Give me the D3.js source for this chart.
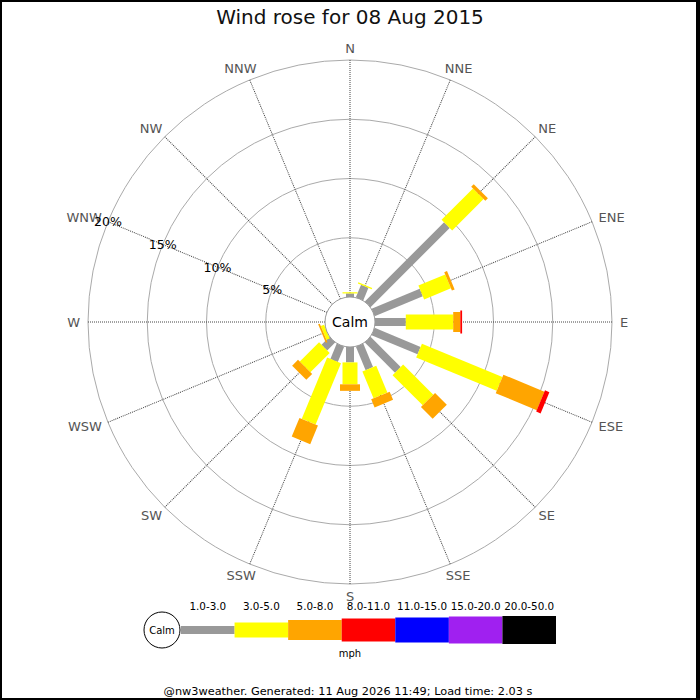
<!DOCTYPE html>
<html>
<head>
<meta charset="utf-8">
<script src="https://cdn.jsdelivr.net/npm/d3@7"></script>
<style>
  body { margin: 0; background: #fff; }
  svg text { font-family: "DejaVu Sans", sans-serif; }
</style>
</head>
<body>
<div id="chart"></div>
<script>
// compass directions, clockwise from N
const directions = ["N", "NNE", "NE", "ENE", "E", "ESE", "SE", "SSE", "S", "SSW", "SW", "WSW", "W", "WNW", "NW", "NNW"];
// speed bands (mph) and their colours
const speedBands = ["1.0-3.0", "3.0-5.0", "5.0-8.0", "8.0-11.0", "11.0-15.0", "15.0-20.0", "20.0-50.0"];
const bandColors = ["#999999", "#ffff00", "#ffa500", "#ff0000", "#0000ff", "#a020f0", "#000000"];
// % of time per direction, one list per speed band
const band1to3   = [0.3, 1.15, 9.45, 4.4, 2.6, 4.2, 3.6, 2.15, 1.3, 1.4, 0.95, 0, 0, 0, 0, 0];
const band3to5   = [0.1, 0.1, 3.75, 2.45, 4.0, 7.35, 3.6, 2.45, 1.85, 5.6, 2.3, 0.3, 0, 0, 0, 0];
const band5to8   = [0, 0, 0.3, 0.25, 0.6, 3.75, 1.4, 0.75, 0.55, 1.7, 0.7, 0.15, 0, 0, 0, 0];
const band8to11  = [0, 0, 0, 0, 0.15, 0.4, 0, 0, 0, 0, 0, 0, 0, 0, 0, 0];
const band11to15 = [0, 0, 0, 0, 0, 0, 0, 0, 0, 0, 0, 0, 0, 0, 0, 0];
const band15to20 = [0, 0, 0, 0, 0, 0, 0, 0, 0, 0, 0, 0, 0, 0, 0, 0];
const band20to50 = [0, 0, 0, 0, 0, 0, 0, 0, 0, 0, 0, 0, 0, 0, 0, 0];
// radial ticks
const pctTicks = [5, 10, 15, 20];

const bandValues = [band1to3, band3to5, band5to8, band8to11, band11to15, band15to20, band20to50];
const legWidths = [8, 15, 20, 23, 25, 27, 28]; // leg thickness per band

const W = 700, H = 700;
const cx = 350, cy = 322;

const svg = d3.select("#chart").append("svg")
    .attr("width", W)
    .attr("height", H);

// frame
svg.append("rect").attr("width", W).attr("height", H).attr("fill", "#000");
svg.append("rect").attr("x", 2).attr("y", 2).attr("width", W - 6).attr("height", H - 4).attr("fill", "#fff");

// title
svg.append("text")
    .attr("x", W / 2)
    .attr("y", 24)
    .attr("text-anchor", "middle")
    .attr("font-size", "20px")
    .attr("fill", "#111")
    .text("Wind rose for 08 Aug 2015");

// scales
const rScale = d3.scaleLinear().domain([0, 20]).range([25, 262]);
const aScale = d3.scaleLinear().domain([0, directions.length]).range([0, 360]);

const rose = svg.append("g").attr("transform", `translate(${cx},${cy})`);

// rings
rose.selectAll("circle.ring")
    .data(pctTicks)
    .enter()
    .append("circle")
    .attr("class", "ring")
    .attr("r", d => rScale(d))
    .attr("fill", "none")
    .attr("stroke", "#aaa")
    .attr("stroke-width", 1);

// spokes (dotted)
rose.selectAll("line.spoke")
    .data(directions)
    .enter()
    .append("line")
    .attr("class", "spoke")
    .attr("transform", (d, i) => `rotate(${aScale(i)})`)
    .attr("x1", 0).attr("x2", 0)
    .attr("y1", -rScale(0))
    .attr("y2", -rScale(20))
    .attr("stroke", "#444")
    .attr("stroke-width", 1)
    .attr("stroke-dasharray", "1,1");

// stacked legs
const rows = directions.map((d, i) => {
    const row = { dir: d, idx: i };
    speedBands.forEach((b, j) => row[b] = bandValues[j][i]);
    return row;
});
const stacked = d3.stack().keys(speedBands)(rows);

stacked.forEach((layer, j) => {
    rose.append("g")
        .selectAll("rect")
        .data(layer.filter(d => d[1] - d[0] > 0))
        .enter()
        .append("rect")
        .attr("transform", d => `rotate(${aScale(d.data.idx)})`)
        .attr("x", -legWidths[j] / 2)
        .attr("width", legWidths[j])
        .attr("y", d => -rScale(d[1]))
        .attr("height", d => rScale(d[1]) - rScale(d[0]))
        .attr("fill", bandColors[j]);
});

// calm circle
rose.append("circle")
    .attr("r", rScale(0))
    .attr("fill", "#fff")
    .attr("stroke", "#999")
    .attr("stroke-width", 1);
rose.append("text")
    .attr("text-anchor", "middle")
    .attr("dy", "0.35em")
    .attr("font-size", "14px")
    .attr("fill", "#000")
    .text("Calm");

// direction labels: just outside the outer ring, pushed outward by half their box
directions.forEach((d, i) => {
    const a = aScale(i) * Math.PI / 180;
    const rr = rScale(20) + 8;
    const t = rose.append("text")
        .attr("text-anchor", "middle")
        .attr("dy", "0.35em")
        .attr("font-size", "13px")
        .attr("fill", "#555")
        .text(d);
    const w = t.node().getComputedTextLength();
    t.attr("x", rr * Math.sin(a) + Math.sin(a) * w / 2)
     .attr("y", -rr * Math.cos(a) - Math.cos(a) * 4);
});

// percentage labels along WNW spoke
const pctAngle = aScale(directions.indexOf("WNW")) * Math.PI / 180;
rose.selectAll("text.pct")
    .data(pctTicks)
    .enter()
    .append("text")
    .attr("class", "pct")
    .attr("x", d => rScale(d) * Math.sin(pctAngle))
    .attr("y", d => -rScale(d) * Math.cos(pctAngle))
    .attr("dy", "0.35em")
    .attr("text-anchor", "middle")
    .attr("font-size", "12.6px")
    .attr("fill", "#000")
    .text(d => d + "%");

// legend
const legX = d3.scaleBand().domain(speedBands).range([181, 556]);
const legY = 630;
const legend = svg.append("g");
legend.append("circle")
    .attr("cx", 162).attr("cy", legY).attr("r", 18)
    .attr("fill", "#fff").attr("stroke", "#000");
legend.append("text")
    .attr("x", 162).attr("y", legY).attr("dy", "0.35em")
    .attr("text-anchor", "middle")
    .attr("font-size", "10px")
    .text("Calm");
legend.selectAll("rect")
    .data(speedBands)
    .enter()
    .append("rect")
    .attr("x", d => legX(d))
    .attr("width", legX.bandwidth())
    .attr("y", (d, i) => legY - legWidths[i] / 2)
    .attr("height", (d, i) => legWidths[i])
    .attr("fill", (d, i) => bandColors[i]);
legend.selectAll("text.band")
    .data(speedBands)
    .enter()
    .append("text")
    .attr("class", "band")
    .attr("x", d => legX(d) + legX.bandwidth() / 2)
    .attr("y", 610)
    .attr("text-anchor", "middle")
    .attr("font-size", "10.4px")
    .attr("fill", "#000")
    .text(d => d);
legend.append("text")
    .attr("x", 350).attr("y", 657)
    .attr("text-anchor", "middle")
    .attr("font-size", "10px")
    .text("mph");

// footer
svg.append("text")
    .attr("x", 348).attr("y", 695)
    .attr("text-anchor", "middle")
    .attr("font-size", "11.3px")
    .attr("fill", "#000")
    .text("@nw3weather. Generated: 11 Aug 2026 11:49; Load time: 2.03 s");
</script>
</body>
</html>
